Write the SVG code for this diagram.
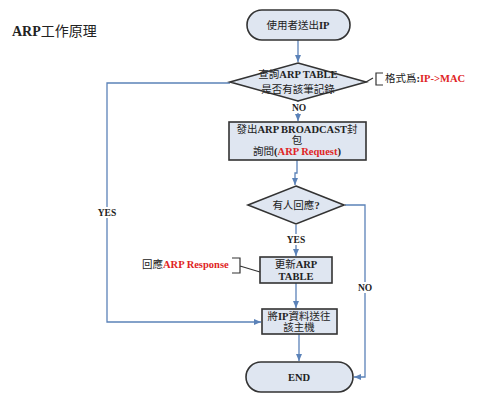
<svg xmlns="http://www.w3.org/2000/svg" width="500" height="409" viewBox="0 0 500 409">
<style>
.t{font-family:"Liberation Serif","Noto Sans CJK TC",serif;font-size:10.5px;font-weight:normal;fill:#222;text-anchor:middle}
.b{font-weight:bold}
.r{fill:#e02424;font-weight:bold}
.shape{fill:#dfe6f1;stroke:#333;stroke-width:1.6}
.conn{fill:none;stroke:#5b82b8;stroke-width:1.3}
.br{fill:none;stroke:#333;stroke-width:1.2}
.lbl{font-family:"Liberation Serif",serif;font-size:9.5px;font-weight:bold;fill:#222;text-anchor:middle}
</style>
<defs>
<marker id="ah" markerWidth="8" markerHeight="8" refX="7" refY="4" orient="auto" markerUnits="userSpaceOnUse">
<path d="M0,1 L7,4 L0,7 Z" fill="#5b82b8"/>
</marker>
</defs>
<rect width="500" height="409" fill="#fff"/>
<text x="12" y="36" style="font-family:'Liberation Serif','Noto Sans CJK TC',serif;font-size:14px;font-weight:bold;fill:#222">ARP<tspan style="font-weight:normal">工作原理</tspan></text>

<g id="connectors">
<path class="conn" d="M298,40 V62" marker-end="url(#ah)"/>
<path class="conn" d="M298,101 V121" marker-end="url(#ah)"/>
<path class="conn" d="M297,160 V173 H295 V185" marker-end="url(#ah)"/>
<path class="conn" d="M296,225 V256" marker-end="url(#ah)"/>
<path class="conn" d="M296,283 V308" marker-end="url(#ah)"/>
<path class="conn" d="M299,334 V361" marker-end="url(#ah)"/>
<path class="conn" d="M345,205 H365 V377 H354" marker-end="url(#ah)"/>
<path class="conn" d="M230,83 H107 V322 H261" marker-end="url(#ah)"/>
<rect x="94" y="207" width="27" height="11" fill="#fff"/>
<text class="lbl" x="107" y="216">YES</text>
<rect x="287" y="102" width="24" height="11" fill="#fff"/>
<text class="lbl" x="299" y="111">NO</text>
<rect x="282" y="234" width="28" height="11" fill="#fff"/>
<text class="lbl" x="296" y="243">YES</text>
<rect x="353" y="282" width="24" height="11" fill="#fff"/>
<text class="lbl" x="365" y="291">NO</text>
</g>

<g id="start">
<rect class="shape" x="247" y="10" width="103" height="30" rx="15"/>
<text class="t" x="298" y="29">使用者送出<tspan class="b">IP</tspan></text>
</g>

<g id="check-table">
<path class="shape" d="M298,63 L366,82 L298,101 L230,82 Z"/>
<text class="t" x="298" y="78">查詢<tspan class="b">ARP TABLE</tspan></text>
<text class="t" x="298" y="93">是否有該筆記錄</text>
</g>

<g id="note-format">
<path class="br" d="M366,82 L373,78 M383,73 H376 V85 H383"/>
<text class="t" x="385" y="82" style="text-anchor:start">格式爲<tspan class="b">:</tspan><tspan class="r">IP-&gt;MAC</tspan></text>
</g>

<g id="broadcast">
<rect class="shape" x="229" y="122" width="137" height="38"/>
<text class="t" x="297" y="133">發出<tspan class="b">ARP BROADCAST</tspan>封</text>
<text class="t" x="297" y="144">包</text>
<text class="t" x="297" y="155">詢問<tspan class="b">(</tspan><tspan class="r">ARP Request</tspan><tspan class="b">)</tspan></text>
</g>

<g id="reply-check">
<path class="shape" d="M296,186 L344,205 L296,224 L248,205 Z"/>
<text class="t" x="296" y="209">有人回應<tspan class="b">?</tspan></text>
</g>

<g id="update-table">
<rect class="shape" x="260" y="257" width="72" height="26"/>
<text class="t" x="296" y="268">更新<tspan class="b">ARP</tspan></text>
<text class="t b" x="296" y="280">TABLE</text>
</g>

<g id="note-response">
<path class="br" d="M232,258 H240 V273 H232 M240,266 L260,272"/>
<text class="t" x="142" y="268" style="text-anchor:start">回應<tspan class="r">ARP Response</tspan></text>
</g>

<g id="send-data">
<rect class="shape" x="262" y="309" width="75" height="25"/>
<text class="t" x="299" y="320">將<tspan class="b">IP</tspan>資料送往</text>
<text class="t" x="299" y="331">該主機</text>
</g>

<g id="end">
<rect class="shape" x="246" y="362" width="107" height="30" rx="15"/>
<text class="t b" x="299" y="381">END</text>
</g>
</svg>
